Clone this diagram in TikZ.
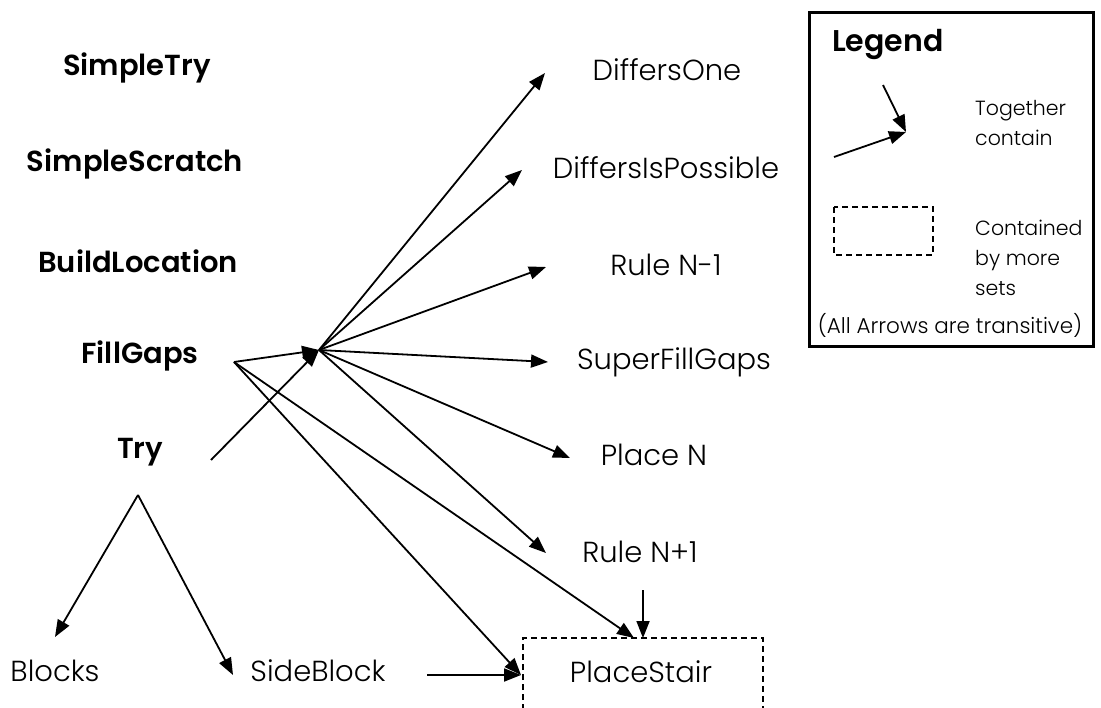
\documentclass[tikz,border=0pt]{standalone}
\usepackage{fontspec}
\setmainfont{Poppins Light}[BoldFont=Poppins SemiBold]
\usetikzlibrary{arrows.meta}

\tikzset{base set/.style={font=\bfseries\fontsize{29}{32}\selectfont,inner sep=0pt},
set/.style={font=\fontsize{29}{32}\selectfont,inner sep=0pt},
legend title/.style={font=\bfseries\fontsize{30}{32}\selectfont,anchor=west,inner sep=0pt},
legend text/.style={font=\fontsize{20.5}{30}\selectfont,anchor=west,align=left,inner sep=0pt},
contain/.style={line width=1.8pt,-{Triangle[length=17pt,width=13pt]}},
more sets/.style={line width=1.2pt,dash pattern=on 6pt off 4pt}}

\begin{document}
\begin{tikzpicture}[x=1pt,y=-1pt]
\clip (0,0) rectangle (1101,708);

%% base sets (left column)
\node [base set] (simpletry) at (137,68) {SimpleTry};
\node [base set] (simplescratch) at (135,164) {SimpleScratch};
\node [base set] (buildlocation) at (138,261) {BuildLocation};
\node [base set] (fillgaps) at (140,356) {FillGaps};
\node [base set] (try) at (140,452) {Try};

%% derived sets
\node [set] (differsone) at (667,70) {DiffersOne};
\node [set] (differsispossible) at (666,168) {DiffersIsPossible};
\node [set] (rulenm) at (666,265) {Rule N-1};
\node [set] (superfillgaps) at (674,362) {SuperFillGaps};
\node [set] (placen) at (654,455) {Place N};
\node [set] (rulenp) at (640,552) {Rule N+1};
\node [set] (blocks) at (55,671) {Blocks};
\node [set] (sideblock) at (318,671) {SideBlock};
\node [set] (placestair) at (641,672) {PlaceStair};

%% coordinates of arrow ends
\coordinate (hub) at (319,350);
\coordinate (fg) at (234,362);
\coordinate (tr) at (211,460);
\coordinate (tr down) at (138,495);
\coordinate (sb out) at (427,675);
\coordinate (ps left) at (521,675);
\coordinate (ps top) at (634,638);
\coordinate (ps above) at (643,590);
\coordinate (ps top2) at (643,638);

%% together contain
\draw [contain] (fg) -- (hub);
\draw [contain] (tr) -- (hub);
\draw [contain] (hub) -- (545,73);
\draw [contain] (hub) -- (522,170);
\draw [contain] (hub) -- (546,267);
\draw [contain] (hub) -- (548,362);
\draw [contain] (hub) -- (570,458);
\draw [contain] (hub) -- (546,553);
\draw [contain] (fg) -- (ps left);
\draw [contain] (fg) -- (ps top);
\draw [contain] (ps above) -- (ps top2);
\draw [contain] (sb out) -- (ps left);
\draw [contain] (tr down) -- (55,637);
\draw [contain] (tr down) -- (233,675);

%% contained by more sets
\draw [more sets] (523,720) -- (523,638) -- (763,638) -- (763,720);

%% legend
\draw [line width=3pt] (809,13) rectangle (1093,347);
\node [legend title] (legend) at (832,44) {Legend};
\coordinate (lg a) at (883,85);
\coordinate (lg b) at (834,157);
\coordinate (lg tip) at (906,132);
\draw [contain] (lg a) -- (lg tip);
\draw [contain] (lg b) -- (lg tip);
\node [legend text] (together) at (975,123) {Together\\contain};
\draw [more sets] (834,207) rectangle (933,255);
\node [legend text] (contained) at (975,258) {Contained\\by more\\sets};
\node [legend text,anchor=center,font=\fontsize{21.5}{30}\selectfont] (transitive) at (950,325) {(All Arrows are transitive)};

\end{tikzpicture}
\end{document}
